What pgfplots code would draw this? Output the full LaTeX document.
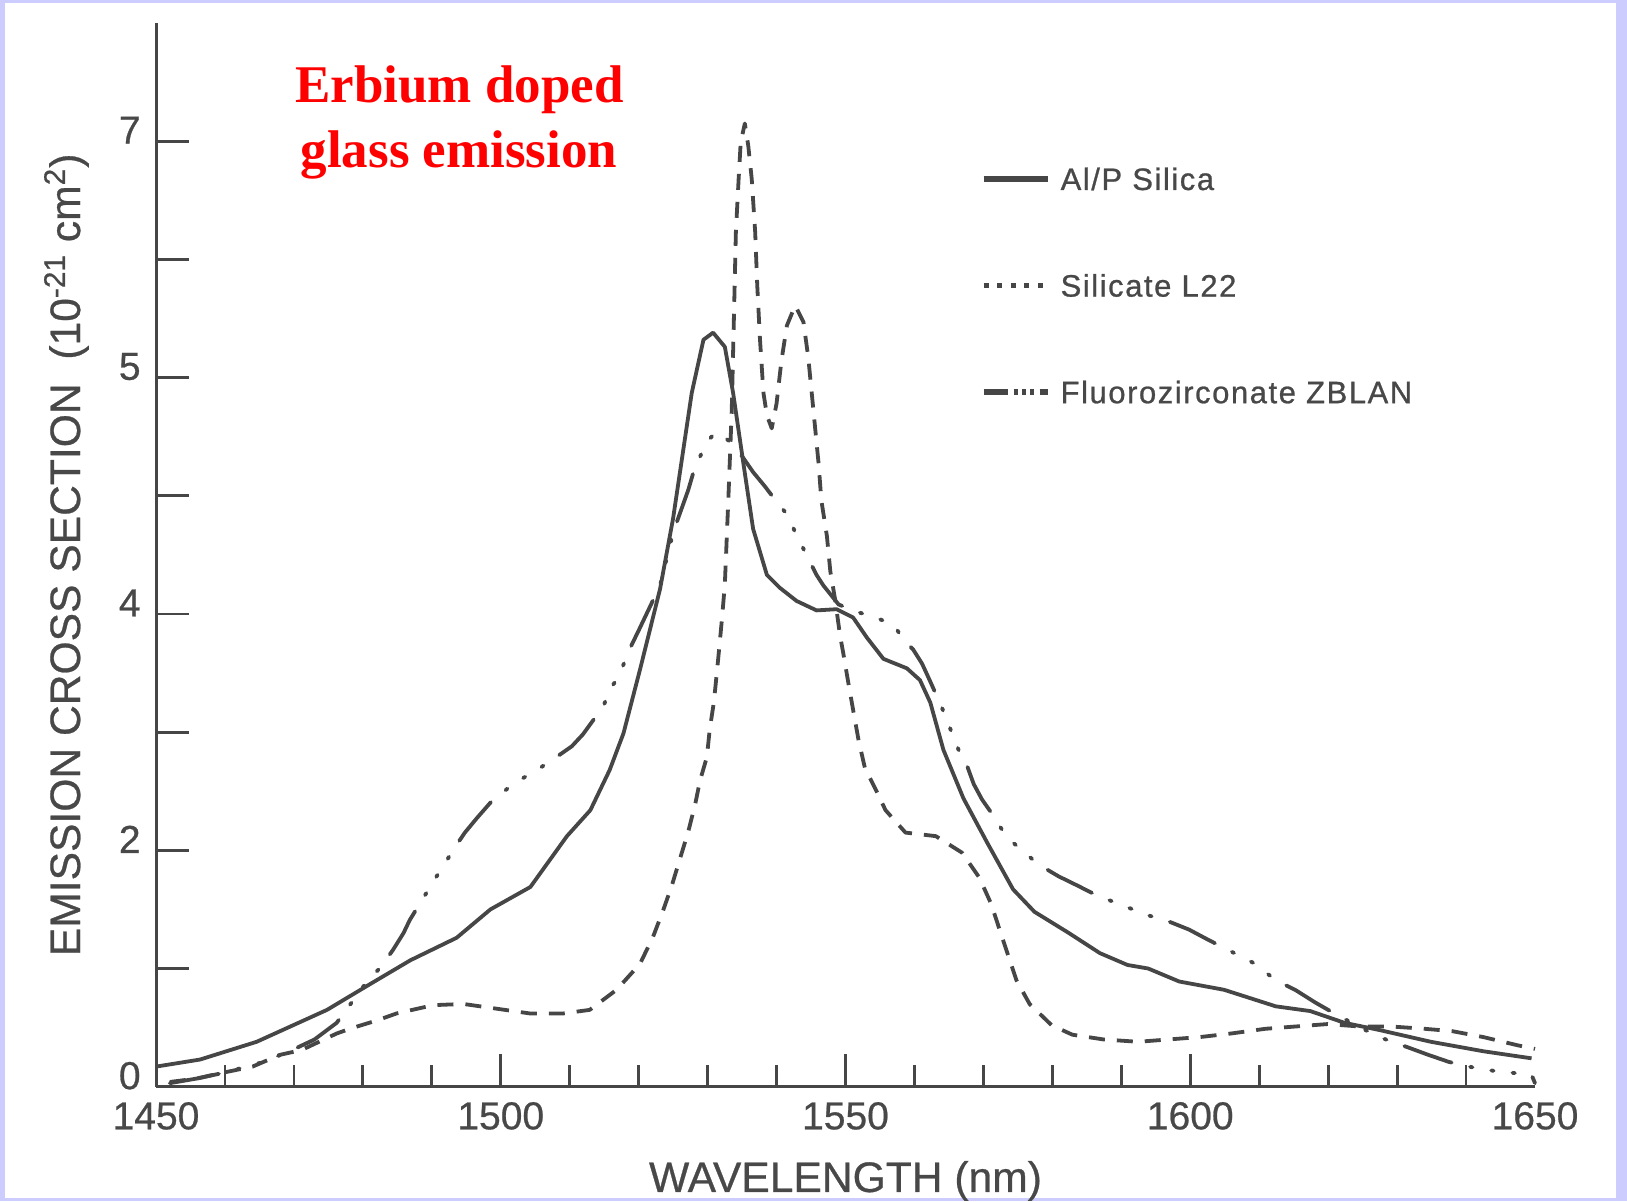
\documentclass[border=0pt]{standalone}
\usepackage{pgfplots}
\pgfplotsset{compat=1.18}
\usepackage{fontspec}
\setmainfont{Liberation Sans}
\newfontfamily\titlefont{Liberation Serif}
\newfontfamily\heavy[FakeBold=0.6]{Liberation Sans}
\newfontfamily\legfont[LetterSpace=5,FakeBold=0.8]{Liberation Sans}

\definecolor{ink}{RGB}{70,70,70}
\definecolor{txt}{RGB}{72,72,72}
\definecolor{lav}{RGB}{204,204,255}

\newcommand\ticksize{\heavy\fontsize{19.5}{22}\selectfont}
\newcommand\labsize{\heavy\fontsize{21.3}{25}\selectfont}

\begin{document}
\begin{tikzpicture}
% page frame (1px = 0.5pt)
\fill[lav] (0pt,0pt) rectangle (813.5pt,600.5pt);
\fill[white] (2.5pt,1.5pt) rectangle (808pt,599pt);
\path[use as bounding box] (0pt,0pt) rectangle (813.5pt,600.5pt);

\node[font=\titlefont\bfseries\fontsize{26.5}{31}\selectfont, text=red, anchor=base, inner sep=0pt]
  at (229.8pt,549pt) {Erbium doped};
\node[font=\titlefont\bfseries\fontsize{26.5}{31}\selectfont, text=red, anchor=base, inner sep=0pt]
  at (229.5pt,516.5pt) {glass emission};

\begin{axis}[
    at={(78pt,57.15pt)}, anchor=south west,
    scale only axis, width=689.5pt, height=531.85pt,
    xmin=1450, xmax=1650, ymin=0, ymax=9,
    clip=false,
    axis lines=left,
    axis line style={-, line width=1.5pt, ink},
    tick align=inside,
    major tick length=16.25pt, minor tick length=11pt,
    tick style={line width=1.4pt, ink},
    xtick={1500,1550,1600}, xticklabels={1500,1550,1600},
    minor xtick={1460,1470,1480,1490,1510,1520,1530,1540,1560,1570,1580,1590,1610,1620,1630,1640},
    extra x ticks={1450,1650}, extra x tick labels={1450,1650},
    extra x tick style={major tick length=0pt},
    ytick={0,1,2,3,4,5,6,7,8}, yticklabels={0,,2,,4,,5,,7},
    xticklabel style={font=\ticksize, text=txt, anchor=north, inner sep=0pt, yshift=-7.5pt},
    yticklabel style={font=\ticksize, text=txt, anchor=east, inner sep=0pt, xshift=-7.5pt, yshift=5.5pt},
    every axis x label/.style={at={(axis description cs:0.5,0)}, anchor=north, yshift=-37pt,
        inner sep=0pt, font=\labsize, text=txt},
    every axis y label/.style={at={(axis description cs:-0.0551,0.5)}, anchor=base, rotate=90,
        inner sep=0pt, font=\labsize, text=txt},
    xlabel={WAVELENGTH (nm)},
    ylabel={EMISSION CROSS SECTION\ \ (10\textsuperscript{-21} cm\textsuperscript{2})},
    legend style={draw=none, fill=none, at={(axis description cs:0.598,0.8637)}, anchor=north west,
        inner sep=0pt, outer sep=0pt, row sep=42.3pt,
        font=\legfont\fontsize{15.5}{18}\selectfont, text=txt,
        nodes={inner sep=0pt, text height=11pt, text depth=0pt},
        /tikz/every odd column/.append style={column sep=5pt}},
    legend cell align=left,
    legend image code/.code={\draw[#1] (0pt,0pt) -- (32pt,0pt);},
]

% Al/P Silica
\addplot[forget plot, ink, line width=1.9pt, line join=round] coordinates {
(1450,0.17) (1456.4,0.23) (1464.6,0.38) (1474.8,0.65) (1481.1,0.87) (1486.9,1.07)
(1493.6,1.26) (1498.5,1.50) (1504.3,1.69) (1509.6,2.12) (1513.0,2.34) (1515.8,2.68)
(1517.8,2.99) (1520.2,3.53) (1523.1,4.21) (1525.0,4.81) (1527.7,5.87) (1529.4,6.32)
(1530.8,6.38) (1532.5,6.26) (1533.7,5.87) (1535.2,5.27) (1536.6,4.72) (1538.6,4.33)
(1540.5,4.22) (1542.9,4.11) (1545.8,4.03) (1548.7,4.04) (1551.1,3.97) (1553.1,3.80)
(1555.5,3.62) (1558.9,3.54) (1560.8,3.44) (1562.3,3.25) (1564.2,2.85) (1567.1,2.44)
(1570.5,2.07) (1574.3,1.67) (1577.4,1.48) (1582.4,1.30) (1586.9,1.13) (1590.9,1.03)
(1593.9,1.00) (1598.4,0.89) (1604.9,0.82) (1612.4,0.68) (1617.4,0.64) (1622.4,0.54)
(1627.4,0.48) (1634.9,0.38) (1642.5,0.30) (1649.5,0.24)
};

% Silicate L22
\addplot[forget plot, ink, line width=1.9pt, line join=round, dash pattern=on 8pt off 6pt] coordinates {
(1452,0.04) (1456,0.07) (1459,0.11) (1464,0.17) (1468,0.27) (1471.1,0.31) (1476.2,0.45)
(1478.1,0.49) (1482.0,0.56) (1484.9,0.62) (1490.2,0.69) (1494.6,0.70) (1499.4,0.66)
(1504.2,0.62) (1509.1,0.62) (1512.9,0.65) (1516.8,0.82) (1520.2,1.04) (1522.1,1.27)
(1523.6,1.50) (1524.8,1.70) (1526.0,1.93) (1527.2,2.16) (1528.2,2.39) (1528.9,2.59)
(1529.9,2.79) (1530.3,3.02) (1530.9,3.25) (1531.3,3.48) (1531.7,3.72) (1532.1,3.97)
(1532.5,4.25) (1533.0,4.96) (1533.5,5.72) (1533.8,6.47) (1534.1,7.23) (1534.5,7.68)
(1534.8,7.99) (1535.4,8.15) (1535.9,7.96) (1536.4,7.68) (1536.9,7.23) (1537.2,6.78)
(1537.6,6.32) (1538.1,5.87) (1538.6,5.68) (1539.3,5.57) (1540.0,5.78) (1540.7,6.14)
(1541.5,6.44) (1542.7,6.61) (1543.9,6.47) (1544.6,6.17) (1545.1,5.87) (1545.6,5.57)
(1546.1,5.27) (1546.5,4.96) (1547.3,4.66) (1547.8,4.36) (1548.5,4.12) (1549.2,3.82)
(1549.7,3.66) (1550.4,3.42) (1551.1,3.19) (1551.9,2.93) (1552.8,2.70) (1554.5,2.50)
(1555.8,2.34) (1558.7,2.15) (1563.1,2.12) (1566.9,1.98) (1569.4,1.77) (1571.1,1.55)
(1572.4,1.32) (1573.6,1.11) (1574.8,0.90) (1576.7,0.70) (1579.9,0.52) (1582.9,0.44)
(1587.4,0.40) (1592.4,0.38) (1596.9,0.40) (1601.4,0.42) (1605.9,0.45) (1610.9,0.49)
(1615.4,0.51) (1619.9,0.53) (1624.4,0.51) (1629.0,0.51) (1634.0,0.49) (1638.0,0.47)
(1642.5,0.42) (1647.5,0.35) (1650,0.32)
};

% Fluorozirconate ZBLAN
\addplot[forget plot, ink, line width=1.9pt, line join=round, line cap=round,
    dash pattern=on 25pt off 9.5pt on 1.2pt off 9.5pt on 1.2pt off 9.5pt on 1.2pt off 9.5pt] coordinates {
(1452,0.03) (1456,0.07) (1460,0.12) (1465,0.20) (1469,0.29) (1473,0.40) (1476.2,0.54)
(1480.1,0.85) (1482.7,1.02) (1484.4,1.16) (1485.9,1.30) (1486.8,1.41) (1490.7,1.78)
(1491.9,1.89) (1493.4,2.03) (1494.8,2.15) (1496.5,2.27) (1498.9,2.43) (1502.3,2.58)
(1505.0,2.67) (1507.6,2.77) (1510.3,2.88) (1511.9,2.98) (1514.9,3.22) (1515.8,3.36)
(1517.0,3.46) (1518.0,3.60) (1519.0,3.74) (1520.0,3.86) (1523.1,4.24) (1525.0,4.69)
(1527.2,5.05) (1527.9,5.19) (1528.9,5.33) (1529.9,5.46) (1531.3,5.54) (1532.8,5.48)
(1534.7,5.36) (1536.6,5.20) (1538.3,5.08) (1540.0,4.95) (1541.7,4.83) (1542.7,4.69)
(1545.8,4.33) (1546.8,4.24) (1549.0,4.08) (1551.1,4.03) (1552.1,4.01) (1554.3,3.97)
(1557.0,3.91) (1558.4,3.78) (1559.8,3.70) (1561.1,3.58) (1562.2,3.44) (1563.2,3.31)
(1564.1,3.19) (1566.6,2.82) (1567.6,2.72) (1568.6,2.56) (1569.8,2.43) (1571.0,2.33)
(1573.4,2.11) (1575.6,2.00) (1578.0,1.88) (1580.9,1.78) (1583.7,1.70) (1586.4,1.62)
(1593.9,1.45) (1596.8,1.40) (1599.8,1.33) (1602.7,1.24) (1605.4,1.16) (1609.4,1.04)
(1612.4,0.90) (1615.2,0.82) (1618.2,0.71) (1621.2,0.61) (1624.4,0.51) (1627.4,0.42)
(1631.7,0.33) (1634.5,0.27) (1637.5,0.21) (1640.4,0.17) (1643.2,0.14) (1649.5,0.10)
(1650,0.03)
};

\addlegendimage{ink, line width=3pt}
\addlegendentry{Al/P Silica}
\addlegendimage{ink, line width=2.5pt, dash pattern=on 2.5pt off 4.3pt}
\addlegendentry{Silicate L22}
\addlegendimage{ink, line width=2.8pt, dash pattern=on 12pt off 3pt on 2pt off 2.2pt on 2pt off 2.2pt on 2pt off 2.6pt on 6pt}
\addlegendentry{Fluorozirconate ZBLAN}

\end{axis}
\end{tikzpicture}
\end{document}
